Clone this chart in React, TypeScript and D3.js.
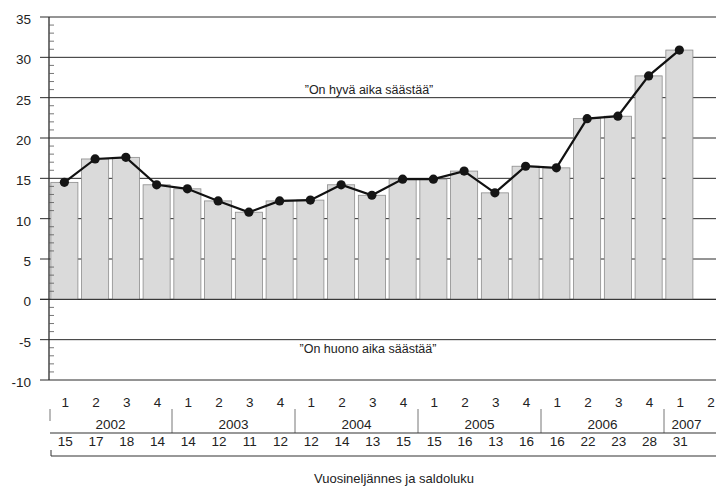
import React from "react";
import * as d3 from "d3";

const quarters = ["1","2","3","4","1","2","3","4","1","2","3","4","1","2","3","4","1","2","3","4","1","2"];
const years = ["2002","2003","2004","2005","2006","2007"];
const yearQuarterCounts = [4,4,4,4,4,2];
const saldo = [14.5,17.4,17.6,14.2,13.7,12.2,10.8,12.2,12.3,14.2,12.9,14.9,14.9,15.9,13.2,16.5,16.3,22.4,22.7,27.7,30.9];
const saldoLabels = ["15","17","18","14","14","12","11","12","12","14","13","15","15","16","13","16","16","22","23","28","31"];
const yTicks = [35,30,25,20,15,10,5,0,-5,-10];
const goodText = "”On hyvä aika säästää”";
const badText = "”On huono aika säästää”";
const axisTitle = "Vuosineljännes ja saldoluku";

const W = 716, H = 487;
const FONT = "'Liberation Sans', Arial, sans-serif";

export default function App() {
  const x0 = 49;
  const slot = 30.75;
  const x = d3.scaleBand<number>().domain(d3.range(quarters.length)).range([x0, x0 + slot * quarters.length]).paddingInner(0.12).paddingOuter(0.06);
  const y = d3.scaleLinear().domain([-10, 35]).range([380, 17]);
  const minor = d3.range(-10, 35, 1).filter(v => v % 5 !== 0);
  const cx = (i: number) => (x(i) as number) + x.bandwidth() / 2;
  const line = d3.line<number>().x((_, i) => cx(i)).y(d => y(d));

  let acc = 0;
  const yearGroups = years.map((yr, k) => {
    const start = acc;
    acc += yearQuarterCounts[k];
    return { yr, start, end: acc };
  });
  const slotX = (i: number) => x0 + i * slot;

  return (
    <svg width={W} height={H} style={{ position: "absolute", left: 0, top: 0, background: "#fff" }} fontFamily={FONT}>
      <rect width={W} height={H} fill="#fff" />
      {/* gridlines */}
      {yTicks.map(t => (
        <line key={"g" + t} x1={40} x2={W} y1={y(t)} y2={y(t)} stroke="#2a2a2a" strokeWidth={1} />
      ))}
      {/* bars */}
      {saldo.map((v, i) => (
        <rect key={"b" + i} x={x(i)} y={y(v)} width={x.bandwidth()} height={y(0) - y(v)} fill="#dadada" stroke="#8c8c8c" strokeWidth={0.8} />
      ))}
      {/* zero line over bars */}
      <line x1={40} x2={W} y1={y(0)} y2={y(0)} stroke="#2a2a2a" strokeWidth={1} />
      {/* y axis */}
      <line x1={x0} x2={x0} y1={y(35)} y2={y(-10)} stroke="#2a2a2a" strokeWidth={1.3} />
      {minor.map(t => (
        <line key={"m" + t} x1={x0} x2={x0 + 5} y1={y(t)} y2={y(t)} stroke="#555" strokeWidth={0.8} />
      ))}
      {yTicks.map(t => (
        <text key={"yl" + t} x={31} y={y(t) + 7} textAnchor="end" fontSize={13.5} fill="#222">{t}</text>
      ))}
      {/* line + points */}
      <path d={line(saldo) || ""} fill="none" stroke="#111" strokeWidth={2.2} />
      {saldo.map((v, i) => (
        <circle key={"c" + i} cx={cx(i)} cy={y(v)} r={4.6} fill="#151515" />
      ))}
      {/* annotations */}
      <text x={369} y={94} textAnchor="middle" fontSize={12.5} fill="#222">{goodText}</text>
      <text x={368} y={353} textAnchor="middle" fontSize={12.5} fill="#222">{badText}</text>
      {/* table: quarters */}
      {quarters.map((q, i) => (
        <text key={"q" + i} x={cx(i) + 1} y={407} textAnchor="middle" fontSize={13.5} fill="#222">{q}</text>
      ))}
      {/* years */}
      {yearGroups.map((g, k) => {
        const a = slotX(g.start);
        const b = Math.min(slotX(g.end), 709);
        return (
          <g key={"y" + k}>
            <line x1={a + (k === 0 ? 1 : 0)} x2={a + (k === 0 ? 1 : 0)} y1={409} y2={k === 0 ? 421 : 433} stroke="#666" strokeWidth={0.9} />
            <text x={(a + b) / 2} y={429} textAnchor="middle" fontSize={13.5} fill="#222">{g.yr}</text>
          </g>
        );
      })}
      <line x1={50} x2={W} y1={433} y2={433} stroke="#333" strokeWidth={1.1} />
      {saldoLabels.map((s, i) => (
        <text key={"s" + i} x={cx(i) + 1} y={446} textAnchor="middle" fontSize={13.5} fill="#222">{s}</text>
      ))}
      <line x1={51} x2={W} y1={456} y2={456} stroke="#333" strokeWidth={1.1} />
      <line x1={51} x2={51} y1={450} y2={456} stroke="#333" strokeWidth={1} />
      <text x={394} y={483} textAnchor="middle" fontSize={13} fill="#222">{axisTitle}</text>
    </svg>
  );
}
